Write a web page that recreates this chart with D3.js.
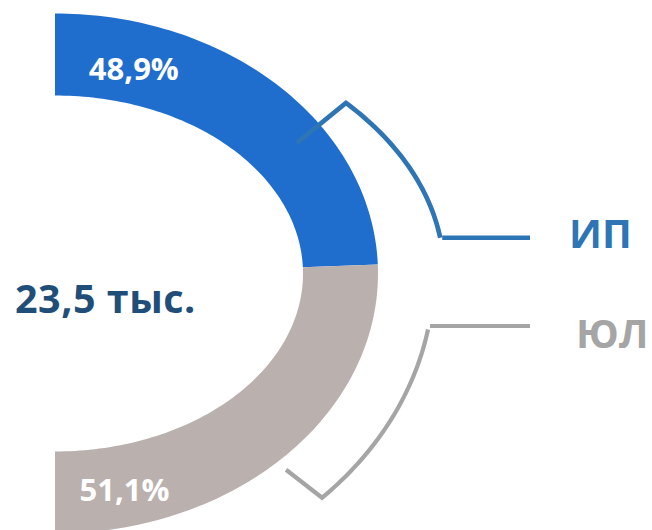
<!DOCTYPE html>
<html>
<head>
<meta charset="utf-8">
<script src="https://cdn.jsdelivr.net/npm/d3@7"></script>
<style>
  body { margin: 0; background: #fff; }
  text { font-family: "Open Sans", sans-serif; font-weight: 700; }
</style>
</head>
<body>
<script>
// data
var categories = ["ИП", "ЮЛ"],
    shares = [48.9, 51.1],
    shareLabels = ["48,9%", "51,1%"],
    totalLabel = "23,5 тыс.";

var colors = ["#1f6ecd", "#bab0ae"],
    legendColors = ["#2e75b6", "#a5a5a5"];

var width = 652,
    height = 530,
    cx = 55,
    cy = 273.5,
    outerRx = 323, outerRy = 260,
    innerRx = 248, innerRy = 178;

var svg = d3.select('body').append('svg')
    .attr('width', width)
    .attr('height', height);

// point on an ellipse, angle measured clockwise from the top
var ell = function(t, rx, ry){
  return [cx + rx * Math.sin(t), cy - ry * Math.cos(t)];
};

var pie = d3.pie().sort(null).startAngle(0).endAngle(Math.PI);
var slices = pie(shares);

var bandPath = function(d){
  var n = 80, pts = [];
  for (var i = 0; i <= n; i++){
    var t = d.startAngle + (d.endAngle - d.startAngle) * i / n;
    pts.push(ell(t, outerRx, outerRy));
  }
  for (var j = n; j >= 0; j--){
    var t2 = d.startAngle + (d.endAngle - d.startAngle) * j / n;
    pts.push(ell(t2, innerRx, innerRy));
  }
  return d3.line()(pts) + 'Z';
};

svg.selectAll('path.slice')
    .data(slices)
  .enter().append('path')
    .attr('class', 'slice')
    .attr('d', bandPath)
    .attr('fill', function(d, i){ return colors[i]; });

// percent labels inside the band
var labelPos = [
  {t: 15.5, rx: 295, ry: 212},
  {t: 166, rx: 287, ry: 223}
];
svg.selectAll('text.pct')
    .data(slices)
  .enter().append('text')
    .attr('class', 'pct')
    .attr('x', function(d, i){ return ell(labelPos[i].t * Math.PI / 180, labelPos[i].rx, labelPos[i].ry)[0]; })
    .attr('y', function(d, i){ return ell(labelPos[i].t * Math.PI / 180, labelPos[i].rx, labelPos[i].ry)[1]; })
    .attr('dy', '0.36em')
    .attr('text-anchor', 'middle')
    .attr('font-size', 31)
    .attr('fill', '#fff')
    .text(function(d, i){ return shareLabels[i]; });

// brackets with leader lines to the category names
var brackets = [
  {rx: 389, ry: 257, t0: 48.4, t1: 82, tick: [-49, 40], tailY: null, w: 4.7},
  {rx: 379, ry: 316, t0: 135.2, t1: 100.2, tick: [-36, -28], tailY: 326, w: 4.2}
];
var tailEnd = 530;

brackets.forEach(function(b, i){
  var pts = [];
  for (var k = 0; k <= 40; k++){
    var t = (b.t0 + (b.t1 - b.t0) * k / 40) * Math.PI / 180;
    pts.push(ell(t, b.rx, b.ry));
  }
  var start = pts[0], end = pts[pts.length - 1];
  var line = [[start[0] + b.tick[0], start[1] + b.tick[1]]].concat(pts);
  var g = svg.append('g')
      .attr('fill', 'none')
      .attr('stroke', legendColors[i])
      .attr('stroke-width', b.w);
  g.append('path').attr('d', d3.line()(line));
  var ty = b.tailY === null ? end[1] : b.tailY;
  g.append('path').attr('d', d3.line()([[end[0] + 2, ty], [tailEnd, ty]]));
});

// category names
var nameX = [569, 576],
    nameY = [248, 348];
svg.selectAll('text.cat')
    .data(categories)
  .enter().append('text')
    .attr('class', 'cat')
    .attr('x', function(d, i){ return nameX[i]; })
    .attr('y', function(d, i){ return nameY[i]; })
    .attr('font-size', 40)
    .attr('fill', function(d, i){ return legendColors[i]; })
    .text(function(d){ return d; });

// total in the middle
svg.append('text')
    .attr('x', 15)
    .attr('y', 313)
    .attr('font-size', 39.5)
    .attr('letter-spacing', 0.5)
    .attr('fill', '#1f4e79')
    .text(totalLabel);
</script>
</body>
</html>
